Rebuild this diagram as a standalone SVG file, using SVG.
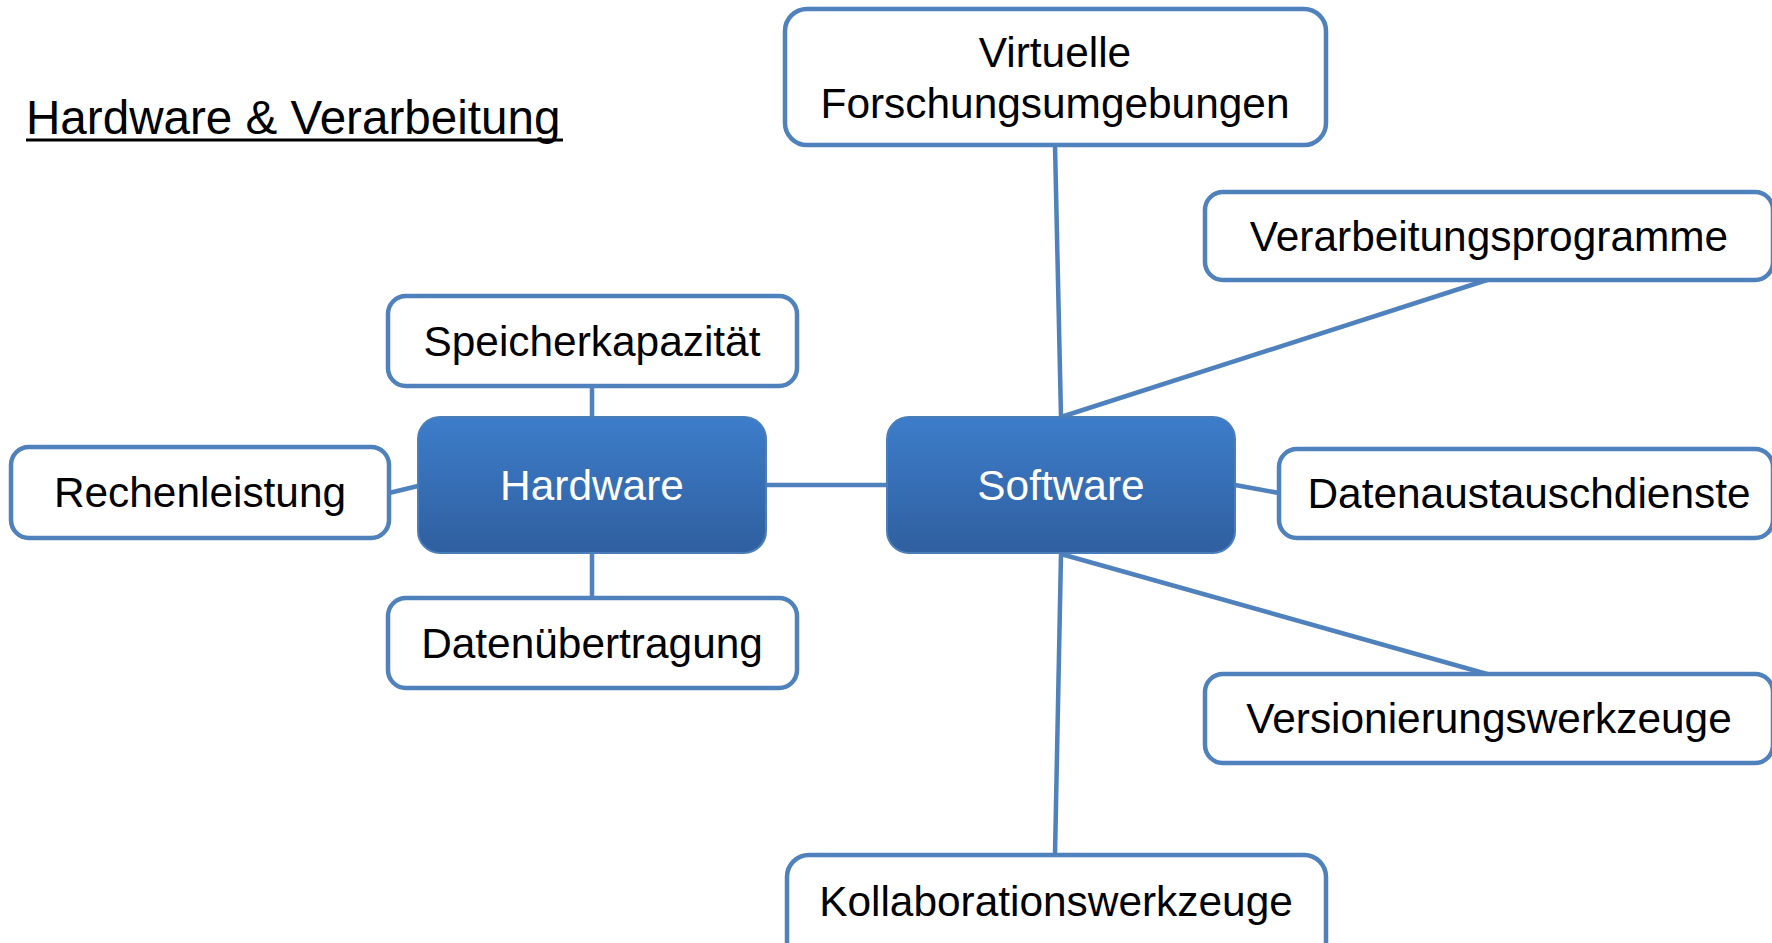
<svg xmlns="http://www.w3.org/2000/svg" width="1772" height="943" viewBox="0 0 1772 943">
<defs>
<linearGradient id="g" x1="0" y1="0" x2="0" y2="1">
<stop offset="0" stop-color="#3D7DCA"/>
<stop offset="1" stop-color="#2F5F9F"/>
</linearGradient>
<style>
.box{fill:#FFFFFF;stroke:#4F81BD;stroke-width:4.5}
.main{fill:url(#g);stroke:#4A7EBB;stroke-width:2}
.t{font-family:"Liberation Sans",Arial,sans-serif;font-size:42.4px;fill:#000000;text-anchor:middle}
.w{fill:#FFFFFF}
.c{stroke:#4F81BD;stroke-width:4.5;fill:none}
</style>
</defs>
<rect width="1772" height="943" fill="#FFFFFF"/>
<g id="title">
<text x="26" y="134" font-family="Liberation Sans, Arial, sans-serif" font-size="47.6" fill="#000000">Hardware &amp; Verarbeitung</text>
<line x1="26" y1="140" x2="563" y2="140" stroke="#000000" stroke-width="3"/>
</g>
<g id="connectors">
<line class="c" x1="766" y1="485" x2="887" y2="485"/>
<line class="c" x1="592" y1="386" x2="592" y2="417"/>
<line class="c" x1="592" y1="553" x2="592" y2="598"/>
<line class="c" x1="389" y1="493" x2="418" y2="486"/>
<line class="c" x1="1055" y1="145" x2="1061" y2="417"/>
<line class="c" x1="1487" y1="280" x2="1061" y2="417"/>
<line class="c" x1="1235" y1="485" x2="1279" y2="493"/>
<line class="c" x1="1061" y1="554" x2="1487" y2="674"/>
<line class="c" x1="1061" y1="554" x2="1055" y2="855"/>
</g>
<g id="hardware">
<rect class="main" x="418" y="417" width="348" height="136" rx="22"/>
<text class="t w" x="592" y="500">Hardware</text>
</g>
<g id="software">
<rect class="main" x="887" y="417" width="348" height="136" rx="22"/>
<text class="t w" x="1061" y="500">Software</text>
</g>
<g id="virtuelle">
<rect class="box" x="785" y="9" width="541" height="136" rx="22"/>
<text class="t" x="1055" y="67">Virtuelle</text>
<text class="t" x="1055" y="118">Forschungsumgebungen</text>
</g>
<g id="verarbeitungsprogramme">
<rect class="box" x="1205" y="192" width="568" height="88" rx="18"/>
<text class="t" x="1489" y="251">Verarbeitungsprogramme</text>
</g>
<g id="speicherkapazitaet">
<rect class="box" x="388" y="296" width="409" height="90" rx="18"/>
<text class="t" x="592" y="356">Speicherkapazität</text>
</g>
<g id="rechenleistung">
<rect class="box" x="11" y="447" width="378" height="91" rx="18"/>
<text class="t" x="200" y="507">Rechenleistung</text>
</g>
<g id="datenuebertragung">
<rect class="box" x="388" y="598" width="409" height="90" rx="18"/>
<text class="t" x="592" y="658">Datenübertragung</text>
</g>
<g id="datenaustauschdienste">
<rect class="box" x="1279" y="449" width="494" height="89" rx="18"/>
<text class="t" x="1529" y="508">Datenaustauschdienste</text>
</g>
<g id="versionierungswerkzeuge">
<rect class="box" x="1205" y="674" width="568" height="89" rx="18"/>
<text class="t" x="1489" y="733">Versionierungswerkzeuge</text>
</g>
<g id="kollaborationswerkzeuge">
<rect class="box" x="787" y="855" width="539" height="110" rx="22"/>
<text class="t" x="1056" y="916">Kollaborationswerkzeuge</text>
</g>
</svg>
